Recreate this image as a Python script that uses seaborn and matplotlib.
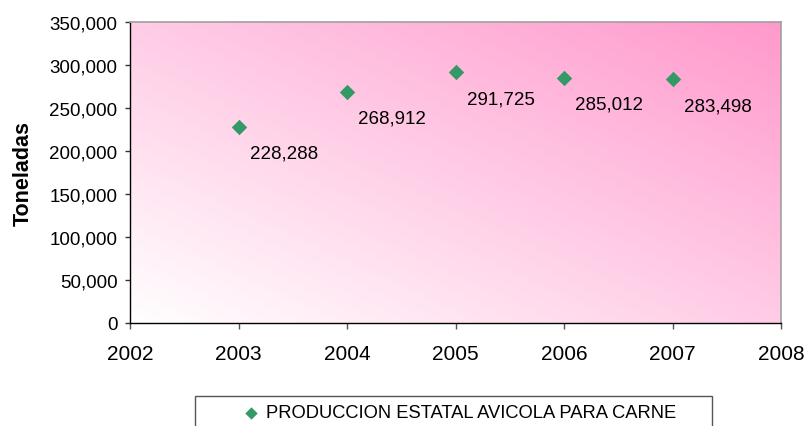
import matplotlib
matplotlib.use("Agg")
import matplotlib.pyplot as plt
import numpy as np
import pandas as pd
import seaborn as sns
from matplotlib.patches import Rectangle
from matplotlib.ticker import FuncFormatter

# data
years = [2003, 2004, 2005, 2006, 2007]
toneladas = [228288, 268912, 291725, 285012, 283498]
serie = "PRODUCCION ESTATAL AVICOLA PARA CARNE"
y_ticks = [0, 50000, 100000, 150000, 200000, 250000, 300000, 350000]
x_ticks = [2002, 2003, 2004, 2005, 2006, 2007, 2008]

sns.set_style("white")
plt.rcParams["font.family"] = ["Liberation Sans", "DejaVu Sans"]
plt.rcParams["text.color"] = "black"
plt.rcParams["xtick.color"] = "black"
plt.rcParams["ytick.color"] = "black"

df = pd.DataFrame({"anio": years, "toneladas": toneladas})

W, H = 806, 427
fig = plt.figure(figsize=(W / 100, H / 100), dpi=100)
pos = [130 / W, 1 - 324 / H, (781 - 130) / W, (324 - 23) / H]

# pink gradient behind the plot area (white bottom-left -> pink top-right)
bg = fig.add_axes(pos, zorder=0)
u = np.linspace(0, 1, 400)
v = np.linspace(1, 0, 200)
uu, vv = np.meshgrid(u, v)
t = (uu + vv) / 2
pink = np.array([1.0, 0.60, 0.80])
grad = 1 - t[..., None] * (1 - pink)
bg.imshow(grad, aspect="auto", extent=(0, 1, 0, 1), interpolation="bilinear")
bg.axis("off")

ax = fig.add_axes(pos, zorder=1)
ax.set_facecolor("none")
sns.scatterplot(data=df, x="anio", y="toneladas", marker="D", s=62,
                color="#339966", linewidth=0, ax=ax, label=serie, legend=False)

for x, y in zip(years, toneladas):
    ax.annotate(f"{y:,}", (x, y), xytext=(8, -19), textcoords="offset points",
                ha="left", va="center", fontsize=13.5, color="black")

ax.set_xlim(2002, 2008)
ax.set_ylim(0, 350000)
ax.set_xticks(x_ticks)
ax.set_yticks(y_ticks)
ax.yaxis.set_major_formatter(FuncFormatter(lambda val, p: f"{int(val):,}"))
ax.set_xlabel("")
ax.set_ylabel("")
ax.tick_params(axis="x", direction="out", length=4.3, width=1, color="#555555",
               labelcolor="black", labelsize=15, pad=10.5, bottom=True)
ax.tick_params(axis="y", direction="out", length=3.6, width=1, color="#333333",
               labelcolor="black", labelsize=13.5, pad=5.5, left=True)

for side in ["left", "bottom"]:
    ax.spines[side].set_color("black")
    ax.spines[side].set_linewidth(1)
for side in ["top", "right"]:
    ax.spines[side].set_color("#A0A0A0")
    ax.spines[side].set_linewidth(1.2)

fig.text(23 / W, 1 - 174 / H, "Toneladas", rotation=90, ha="center",
         va="center", fontsize=15.5, fontweight="bold", color="black")

# legend box at the bottom, partly cut by the figure edge
fig.patches.append(Rectangle((195 / W, -0.05), (712 - 195) / W, (1 - 397 / H) + 0.05,
                             transform=fig.transFigure, fill=False,
                             edgecolor="#555555", linewidth=1))
handles, labels = ax.get_legend_handles_labels()
leg = fig.legend(handles, labels, loc="center", bbox_to_anchor=(460 / W, 1 - 414 / H),
                 frameon=False, fontsize=13.2, markerscale=0.8, handlelength=0.8,
                 handletextpad=0.4, borderpad=0)
for txt in leg.get_texts():
    txt.set_color("black")

fig.savefig("out.png", dpi=100)
